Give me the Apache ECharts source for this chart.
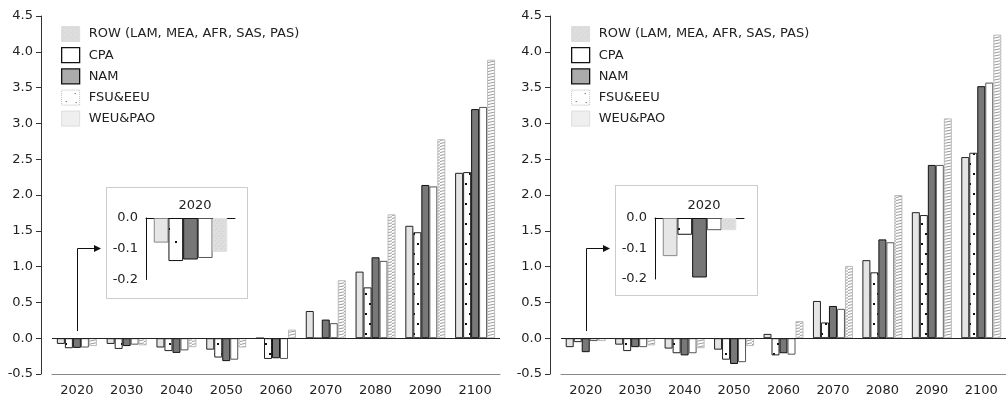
<!DOCTYPE html>
<html>
<head>
<meta charset="utf-8">
<script src="https://cdn.jsdelivr.net/npm/echarts@6/dist/echarts.min.js"></script>
<style>
  html, body { margin: 0; padding: 0; background: #fff; }
  #chart { width: 1006px; height: 397px; }
</style>
</head>
<body>
<div id="chart"></div>
<script>
// categories
const years = ["2020", "2030", "2040", "2050", "2060", "2070", "2080", "2090", "2100"];
const ROW = "ROW (LAM, MEA, AFR, SAS, PAS)";
// bar order inside each group, left to right
const regions = ["WEU&PAO", "FSU&EEU", "NAM", "CPA", ROW];
// legend order, top to bottom
const legendNames = [ROW, "CPA", "NAM", "FSU&EEU", "WEU&PAO"];

// left panel
const weuA = [-0.08, -0.08, -0.13, -0.16, 0, 0.38, 0.93, 1.57, 2.31];
const fsuA = [-0.14, -0.15, -0.18, -0.27, -0.29, 0, 0.71, 1.48, 2.32];
const namA = [-0.135, -0.11, -0.205, -0.32, -0.28, 0.26, 1.13, 2.14, 3.20];
const cpaA = [-0.13, -0.09, -0.17, -0.30, -0.29, 0.21, 1.08, 2.12, 3.23];
const rowA = [-0.11, -0.10, -0.125, -0.13, 0.12, 0.81, 1.73, 2.78, 3.89];

// right panel
const weuB = [-0.125, -0.09, -0.145, -0.16, 0.06, 0.52, 1.09, 1.76, 2.53];
const fsuB = [-0.055, -0.18, -0.21, -0.30, -0.24, 0.22, 0.92, 1.72, 2.59];
const namB = [-0.195, -0.125, -0.24, -0.36, -0.21, 0.45, 1.38, 2.42, 3.52];
const cpaB = [-0.04, -0.125, -0.21, -0.335, -0.23, 0.41, 1.34, 2.42, 3.57];
const rowB = [-0.04, -0.10, -0.14, -0.11, 0.24, 1.01, 2.00, 3.07, 4.24];

const panelA = [weuA, fsuA, namA, cpaA, rowA];
const panelB = [weuB, fsuB, namB, cpaB, rowB];

const FONT = "DejaVu Sans";
const TEXT = "#222";

function pattern(w, h, draw) {
  const c = document.createElement("canvas");
  c.width = w;
  c.height = h;
  draw(c.getContext("2d"));
  return { image: c, repeat: "repeat" };
}

// hatched stripes for ROW
const hatch = pattern(8, 3, (ctx) => {
  ctx.fillStyle = "#fff";
  ctx.fillRect(0, 0, 8, 3);
  ctx.strokeStyle = "#9a9a9a";
  ctx.lineWidth = 1;
  ctx.beginPath();
  ctx.moveTo(0, 2.5);
  ctx.lineTo(8, 0.8);
  ctx.stroke();
});
// sparse dots for FSU&EEU
const dots = pattern(8, 20, (ctx) => {
  ctx.fillStyle = "#fff";
  ctx.fillRect(0, 0, 8, 20);
  ctx.fillStyle = "#111";
  ctx.fillRect(1, 3, 2, 2);
  ctx.fillRect(5, 13, 2, 2);
});
const dotsBig = pattern(15, 34, (ctx) => {
  ctx.fillStyle = "#fff";
  ctx.fillRect(0, 0, 15, 34);
  ctx.fillStyle = "#111";
  ctx.fillRect(10, 3, 2, 2);
  ctx.fillRect(3, 24, 2, 2);
});
// fine stipple for ROW in inset / legend
const stipple = pattern(5, 5, (ctx) => {
  ctx.fillStyle = "#dedede";
  ctx.fillRect(0, 0, 5, 5);
  ctx.fillStyle = "#d0d0d0";
  ctx.fillRect(0, 0, 1, 1);
  ctx.fillRect(3, 1, 1, 1);
  ctx.fillRect(1, 3, 1, 1);
});
const legendDots = pattern(18, 15, (ctx) => {
  ctx.fillStyle = "#fff";
  ctx.fillRect(0, 0, 18, 15);
  ctx.fillStyle = "#444";
  ctx.fillRect(13, 3, 1, 1);
  ctx.fillRect(4, 11, 1, 1);
  ctx.fillRect(14, 12, 1, 1);
});

const mainStyle = {
  "WEU&PAO": { color: "#e4e4e4", borderColor: "#222", borderWidth: 1 },
  "FSU&EEU": { color: dots, borderColor: "#222", borderWidth: 1 },
  NAM: { color: "#787878", borderColor: "#111", borderWidth: 1 },
  CPA: { color: "#fff", borderColor: "#555", borderWidth: 1 },
  [ROW]: { color: hatch, borderColor: "#bbb", borderWidth: 1 },
};
const insetStyle = {
  "WEU&PAO": { color: "#e6e6e6", borderColor: "#888", borderWidth: 1 },
  "FSU&EEU": { color: dotsBig, borderColor: "#111", borderWidth: 1 },
  NAM: { color: "#777", borderColor: "#111", borderWidth: 1 },
  CPA: { color: "#fff", borderColor: "#555", borderWidth: 1 },
  [ROW]: { color: stipple, borderColor: "#e0e0e0", borderWidth: 1 },
};
const legendStyle = {
  [ROW]: { color: stipple, borderColor: "#ddd", borderWidth: 1 },
  CPA: { color: "#fff", borderColor: "#111", borderWidth: 1.3 },
  NAM: { color: "#ababab", borderColor: "#111", borderWidth: 1.3 },
  "FSU&EEU": { color: legendDots, borderColor: "#bbb", borderWidth: 1, borderType: "dotted" },
  "WEU&PAO": { color: "#efefef", borderColor: "#ddd", borderWidth: 1 },
};

const mainGrids = [
  { left: 52, top: 16, width: 448, height: 358 },
  { left: 561, top: 16, width: 448, height: 358 },
];
const insetGrids = [
  { left: 146, top: 218, width: 89, height: 61.5 },
  { left: 655, top: 218, width: 89, height: 61 },
];
const boxes = [
  { x: 106, y: 187, w: 141, h: 111 },
  { x: 615, y: 185, w: 142, h: 110 },
];

const fmt1 = (v) => v.toFixed(1);

function mainX(gridIndex) {
  return {
    type: "category",
    gridIndex,
    data: years,
    boundaryGap: true,
    axisLine: { onZero: false, lineStyle: { color: "#888", width: 1 } },
    axisTick: { inside: true, length: 3, alignWithLabel: true, lineStyle: { color: "#555" } },
    axisLabel: { color: TEXT, fontFamily: FONT, fontSize: 13, margin: 10 },
  };
}
function mainY(gridIndex) {
  return {
    type: "value",
    gridIndex,
    min: -0.5,
    max: 4.5,
    interval: 0.5,
    offset: 11,
    axisLine: { show: true, lineStyle: { color: "#333", width: 1 } },
    axisTick: { show: true, length: 5, lineStyle: { color: "#333" } },
    axisLabel: { color: TEXT, fontFamily: FONT, fontSize: 13, formatter: fmt1 },
    splitLine: { show: false },
  };
}
function insetX(gridIndex) {
  return {
    type: "category",
    gridIndex,
    position: "top",
    data: [years[0]],
    axisLine: { lineStyle: { color: "#111", width: 1 } },
    axisTick: { show: false },
    axisLabel: { show: false },
  };
}
function insetY(gridIndex) {
  return {
    type: "value",
    gridIndex,
    min: -0.2,
    max: 0,
    interval: 0.1,
    axisLine: { show: true, lineStyle: { color: "#111", width: 1 } },
    axisTick: { show: false },
    axisLabel: { color: TEXT, fontFamily: FONT, fontSize: 13, formatter: fmt1 },
    splitLine: { show: false },
  };
}

const series = [];
[panelA, panelB].forEach((panel, p) => {
  regions.forEach((name, i) => {
    const s = {
      name,
      type: "bar",
      xAxisIndex: p,
      yAxisIndex: p,
      data: panel[i],
      barWidth: 8,
      barGap: "0%",
      itemStyle: mainStyle[name],
      emphasis: { disabled: true },
    };
    if (i === 0) {
      s.markLine = {
        silent: true,
        symbol: "none",
        label: { show: false },
        lineStyle: { color: "#222", width: 1, type: "solid" },
        data: [{ yAxis: 0 }],
      };
    }
    series.push(s);
  });
  regions.forEach((name, i) => {
    series.push({
      name,
      type: "bar",
      xAxisIndex: p + 2,
      yAxisIndex: p + 2,
      data: [panel[i][0]],
      barWidth: 14.7,
      barGap: "0%",
      itemStyle: insetStyle[name],
      emphasis: { disabled: true },
    });
  });
});

const legendData = legendNames.map((name) => ({ name, itemStyle: legendStyle[name] }));
function legend(left) {
  return {
    left,
    top: 21,
    orient: "vertical",
    icon: "rect",
    itemWidth: 18,
    itemHeight: 15,
    itemGap: 5,
    selectedMode: false,
    data: legendData,
    textStyle: { color: TEXT, fontFamily: FONT, fontSize: 13, padding: [0, 0, 0, 4] },
  };
}

const chart = echarts.init(document.getElementById("chart"), null, { renderer: "canvas" });
chart.setOption({
  animation: false,
  backgroundColor: "#fff",
  textStyle: { fontFamily: FONT },
  title: [
    { text: years[0], left: 190, top: 194, textAlign: "center", textStyle: { color: TEXT, fontFamily: FONT, fontSize: 13, fontWeight: "normal" } },
    { text: years[0], left: 699, top: 194, textAlign: "center", textStyle: { color: TEXT, fontFamily: FONT, fontSize: 13, fontWeight: "normal" } },
  ],
  legend: [legend(56), legend(566)],
  grid: mainGrids.concat(insetGrids),
  xAxis: [mainX(0), mainX(1), insetX(2), insetX(3)],
  yAxis: [mainY(0), mainY(1), insetY(2), insetY(3)],
  series,
});

// arrows from the 2020 group up to each inset, plus the dotted inset boxes
const ARROW_FROM = 0.1;
const ARROW_TO = 1.26;
const graphic = [];
boxes.forEach((b, p) => {
  graphic.push({
    type: "rect",
    z: 0,
    shape: { x: b.x + 0.5, y: b.y + 0.5, width: b.w, height: b.h },
    style: { fill: "none", stroke: "#999", lineWidth: 1, lineDash: [1, 1] },
  });
  const a = chart.convertToPixel({ xAxisIndex: p, yAxisIndex: p }, [years[0], ARROW_FROM]);
  const t = chart.convertToPixel({ xAxisIndex: p, yAxisIndex: p }, [years[0], ARROW_TO]);
  const x = Math.round(a[0]) + 0.5;
  const y = Math.round(t[1]) + 0.5;
  const tip = b.x - 5;
  graphic.push({
    type: "polyline",
    shape: { points: [[x, a[1]], [x, y], [tip - 5, y]] },
    style: { stroke: "#111", lineWidth: 1, fill: null },
  });
  graphic.push({
    type: "polygon",
    shape: { points: [[tip, y], [tip - 7, y - 3.5], [tip - 7, y + 3.5]] },
    style: { fill: "#111" },
  });
});
chart.setOption({ graphic });
</script>
</body>
</html>
